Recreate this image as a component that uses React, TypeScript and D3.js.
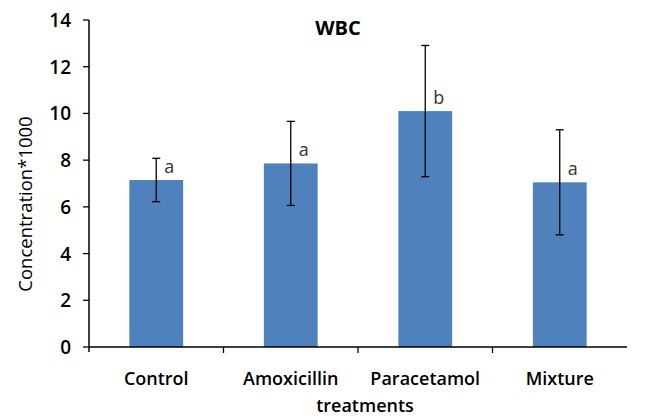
import React from "react";
import * as d3 from "d3";

const categories = ["Control", "Amoxicillin", "Paracetamol", "Mixture"];
const means = [7.15, 7.86, 10.1, 7.05];
const errors = [0.93, 1.8, 2.81, 2.25];
const letters = ["a", "a", "b", "a"];
const yTicks = [0, 2, 4, 6, 8, 10, 12, 14];

const W = 645, H = 416;
const left = 89, right = 627, top = 20, bottom = 347;
const FONT = "'Open Sans', 'Noto Sans', sans-serif";

export default function App() {
  const x = d3.scaleBand<string>().domain(categories).range([left, right]).paddingInner(0).paddingOuter(0);
  const y = d3.scaleLinear().domain([0, 14]).range([bottom, top]);
  const bw = x.bandwidth() * 0.4;
  const cap = 4;
  return (
    <svg width={W} height={H} style={{ position: "absolute", left: 0, top: 0 }}>
      <rect width={W} height={H} fill="#fff" />
      <text x={338} y={35} textAnchor="middle" fontFamily={FONT} fontWeight="bold" fontSize={20} fill="#000">WBC</text>
      {categories.map((c, i) => {
        const cx = (x(c) as number) + x.bandwidth() / 2;
        return (
          <g key={c}>
            <rect x={cx - bw / 2} y={y(means[i])} width={bw} height={bottom - y(means[i])} fill="#4F81BD" />
            <line x1={cx} x2={cx} y1={y(means[i] + errors[i])} y2={y(means[i] - errors[i])} stroke="#000" strokeWidth={1.3} />
            <line x1={cx - cap} x2={cx + cap} y1={y(means[i] + errors[i])} y2={y(means[i] + errors[i])} stroke="#000" strokeWidth={1.3} />
            <line x1={cx - cap} x2={cx + cap} y1={y(means[i] - errors[i])} y2={y(means[i] - errors[i])} stroke="#000" strokeWidth={1.3} />
            <text x={cx + 8} y={y(means[i]) - 7} fontFamily={FONT} fontSize={18} fill="#333">{letters[i]}</text>
            <text x={cx} y={385} textAnchor="middle" fontFamily={FONT} fontSize={18} fontWeight={600} fill="#000">{c}</text>
          </g>
        );
      })}
      {/* y axis */}
      <line x1={left} x2={left} y1={top} y2={bottom + 5} stroke="#000" strokeWidth={1.5} />
      {yTicks.map((t) => (
        <g key={t}>
          <line x1={left - 6} x2={left} y1={y(t)} y2={y(t)} stroke="#000" strokeWidth={1.3} />
          <text x={71} y={y(t) + 7} textAnchor="end" fontFamily={FONT} fontSize={19} fontWeight={600} fill="#000">{t}</text>
        </g>
      ))}
      {/* x axis */}
      <line x1={left} x2={right} y1={bottom} y2={bottom} stroke="#000" strokeWidth={1.5} />
      {categories.slice(1).map((c) => (
        <line key={c} x1={x(c) as number} x2={x(c) as number} y1={bottom} y2={bottom + 6} stroke="#000" strokeWidth={1.3} />
      ))}
      <text x={365} y={412} textAnchor="middle" fontFamily={FONT} fontSize={18} fontWeight={600} fill="#000">treatments</text>
      <text transform={`translate(32, 204) rotate(-90)`} textAnchor="middle" fontFamily={FONT} fontSize={18.5} fontWeight={500} fill="#000">Concentration*1000</text>
    </svg>
  );
}
